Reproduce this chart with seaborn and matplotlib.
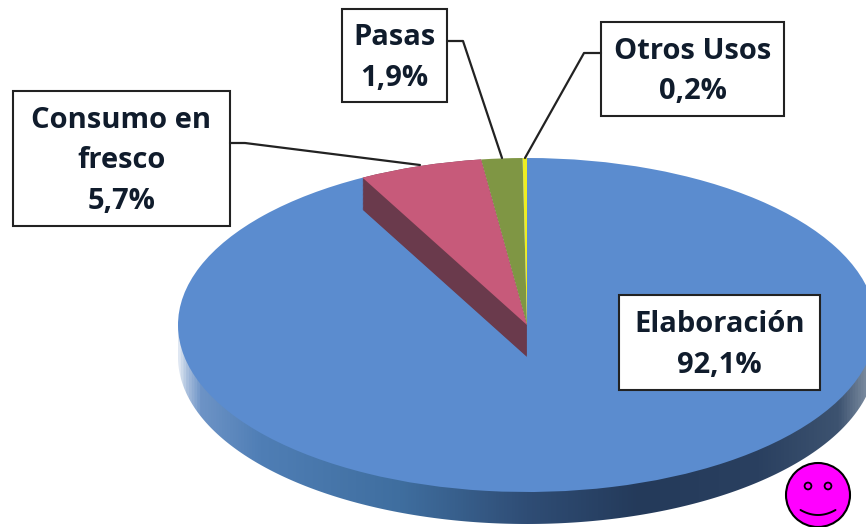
import numpy as np
import seaborn as sns
import matplotlib.pyplot as plt
from matplotlib.colors import LinearSegmentedColormap
from matplotlib.patches import Circle, Polygon, Rectangle

# orden antihorario desde las 12, como en el original
categorias = ["Otros Usos", "Pasas", "Consumo en\nfresco", "Elaboración"]
valores = [0.2, 1.9, 5.7, 92.1]
colores = ["#eeee22", "#7f9644", "#c75a7a", "#5b8ccf"]
color_pared = "#6a3a4c"

# geometria en pixeles del original
ancho, alto = 866, 527
cx, cy, rx, ry, grosor = 527, 325, 349, 167, 32

# caja de cada etiqueta: x0, y0, x1, y1
cajas = {
    "Otros Usos": (601, 22, 784, 116),
    "Pasas": (342, 9, 447, 102),
    "Consumo en\nfresco": (13, 91, 230, 226),
    "Elaboración": (619, 295, 820, 390),
}
guias = {
    "Otros Usos": [(601, 53), (584, 53), (525, 158)],
    "Pasas": [(447, 41), (463, 41), (502, 158)],
    "Consumo en\nfresco": [(230, 143), (245, 143), (420, 165)],
}

sns.set_theme(style="white")
plt.rcParams["font.family"] = ["Open Sans", "DejaVu Sans"]

fig = plt.figure(figsize=(ancho / 100, alto / 100), dpi=100)
ax = fig.add_axes([0, 0, 1, 1])
ax.axis("off")

xlim = ((0 - cx) / rx, (ancho - cx) / rx)
ylim = ((cy - alto) / ry, cy / ry)
prof = grosor / ry

# lateral del disco con degradado
paradas_x = [178, 186, 200, 260, 400, 527, 640, 760, 840, 866, 880]
paradas_c = ["#dfe7f2", "#a9bfdd", "#6d93c6", "#4f7eb5", "#3f6e9f", "#2f4d75",
             "#243a5a", "#2a4060", "#3d5370", "#76879c", "#a0adbd"]
pos = [(x - paradas_x[0]) / (paradas_x[-1] - paradas_x[0]) for x in paradas_x]
cmap = LinearSegmentedColormap.from_list("lateral", list(zip(pos, paradas_c)))
t = np.linspace(np.pi, 2 * np.pi, 300)
contorno = np.column_stack([np.cos(t), np.sin(t) - prof])
contorno = np.vstack([[-1, 0], contorno, [1, 0]])
borde = Polygon(contorno, closed=True, transform=ax.transData,
                facecolor="none", edgecolor="none")
ax.add_patch(borde)
im = ax.imshow(np.linspace(0, 1, 512).reshape(1, -1), cmap=cmap, aspect="auto",
               extent=((paradas_x[0] - cx) / rx, (paradas_x[-1] - cx) / rx, -1.4, 0.05),
               zorder=1)
im.set_clip_path(borde)


def tarta(colors, center=(0, 0), zorder=2):
    wedges, _ = ax.pie(valores, colors=colors, startangle=90, center=center,
                       wedgeprops={"linewidth": 0, "zorder": zorder})
    return wedges


# cara superior azul
tarta(["none", "none", "none", colores[3]], zorder=2)
# pared de la porcion rosa, encima del azul
for d in np.linspace(prof, 0, 40):
    tarta(["none", "none", color_pared, "none"], center=(0, -d), zorder=3)
# caras superiores restantes
tarta([colores[0], colores[1], colores[2], "none"], zorder=4)

ax.set_aspect("auto")
ax.set_xlim(*xlim)
ax.set_ylim(*ylim)

# capa en pixeles para etiquetas y carita
capa = fig.add_axes([0, 0, 1, 1], facecolor="none")
capa.set_xlim(0, ancho)
capa.set_ylim(alto, 0)
capa.axis("off")

for nombre, valor in zip(categorias, valores):
    x0, y0, x1, y1 = cajas[nombre]
    capa.add_patch(Rectangle((x0, y0), x1 - x0, y1 - y0, facecolor="white",
                             edgecolor="#222222", linewidth=1.5, zorder=5))
    texto = nombre + "\n" + f"{valor:.1f}%".replace(".", ",")
    capa.text((x0 + x1) / 2, (y0 + y1) / 2 + 2.5, texto, ha="center", va="center",
              fontsize=21, fontweight="bold", color="#101c2c", linespacing=1.52, zorder=6)
    if nombre in guias:
        xs, ys = zip(*guias[nombre])
        capa.plot(xs, ys, color="#222222", linewidth=1.6, zorder=5)

# carita
capa.add_patch(Circle((818, 495), 32, facecolor="#ff00ff", edgecolor="black",
                      linewidth=1.5, zorder=7))
for ojo_x in (808, 828):
    capa.add_patch(Circle((ojo_x, 486), 3.4, facecolor="none", edgecolor="black",
                          linewidth=1.3, zorder=8))
sonrisa = np.linspace(-17.5, 17.5, 40)
capa.plot(818 + sonrisa, 515 - sonrisa ** 2 / 61, color="black", linewidth=1.4, zorder=8)

fig.savefig("out.png", dpi=100)
